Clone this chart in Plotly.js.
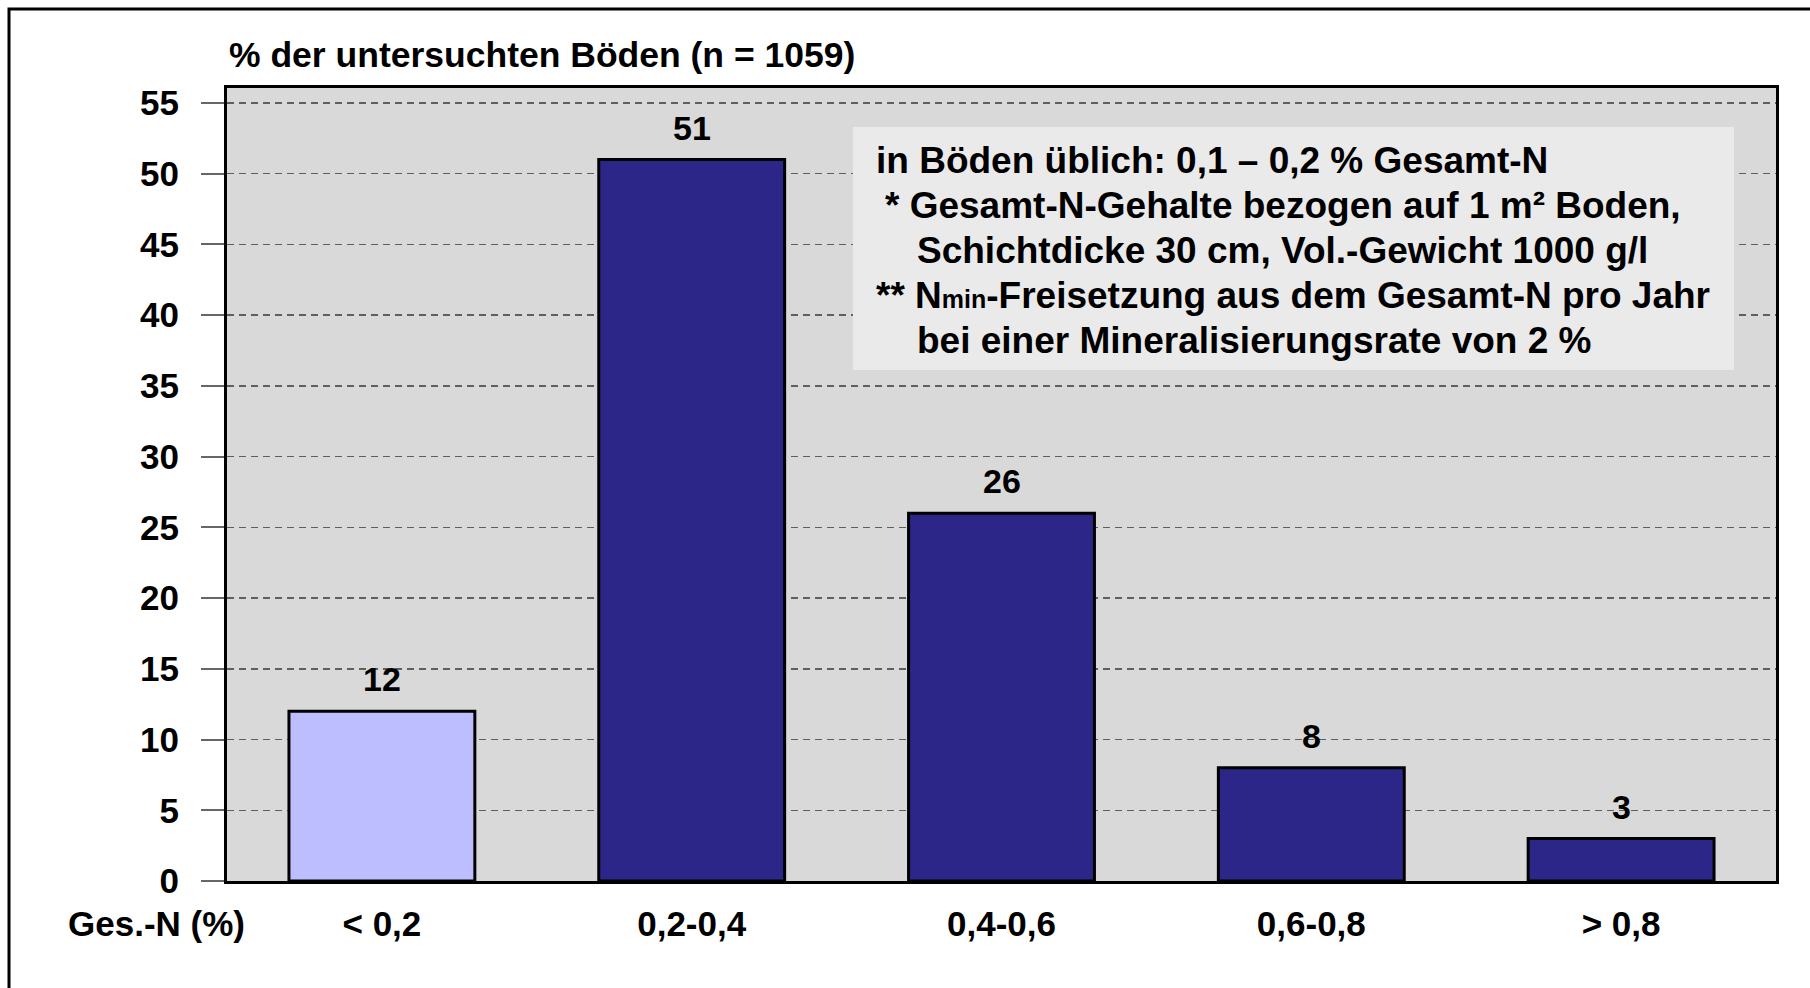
<!DOCTYPE html>
<html>
<head>
<meta charset="utf-8">
<script src="https://cdn.plot.ly/plotly-3.0.1.min.js"></script>
<style>
  html, body { margin: 0; padding: 0; background: #fff; }
  #graph { width: 1810px; height: 988px; }
</style>
</head>
<body>
<div id="graph"></div>
<script>
// Gesamt-N Klassen und Anteil der Böden (%)
var klassen = ['< 0,2', '0,2-0,4', '0,4-0,6', '0,6-0,8', '> 0,8'];
var anteile = [12, 51, 26, 8, 3];
var barFarben = ['#bdbeff', '#2d2689', '#2d2689', '#2d2689', '#2d2689'];

var yTicks = [0, 5, 10, 15, 20, 25, 30, 35, 40, 45, 50, 55];

var titelText = '% der untersuchten Böden (n = 1059)';
var xAchsenText = 'Ges.-N (%)';
var hinweisZeilen = [
  'in Böden üblich: 0,1 – 0,2 % Gesamt-N',
  '* Gesamt-N-Gehalte bezogen auf 1 m² Boden,',
  'Schichtdicke 30 cm, Vol.-Gewicht 1000 g/l',
  '** N<span style="font-size:25px">min</span>-Freisetzung aus dem Gesamt-N pro Jahr',
  'bei einer Mineralisierungsrate von 2 %'
];

var FONT = 'Liberation Sans, Arial, sans-serif';

// Plotbereich in Pixeln
var L = 227, R = 1776, T = 88, B = 881;
function px(x) { return (x - L) / (R - L); }
function py(y) { return (B - y) / (B - T); }

var trace1 = {
  x: klassen,
  y: anteile,
  type: 'bar',
  width: 0.6,
  marker: {
    color: barFarben,
    line: { color: '#000', width: 3 }
  },
  hoverinfo: 'skip'
};

var annotations = [];

// Werte ueber den Balken
for (var i = 0; i < klassen.length; i++) {
  annotations.push({
    x: klassen[i],
    y: anteile[i],
    xref: 'x', yref: 'y',
    text: String(anteile[i]),
    showarrow: false,
    yanchor: 'middle',
    yshift: 32,
    font: { family: FONT, size: 34, color: '#000', weight: 'bold' }
  });
}

// Hinweis-Kasten
var zeilenX = [874, 883, 915, 874, 915];
var zeilenY = [160, 205, 250, 295, 340];
for (var j = 0; j < hinweisZeilen.length; j++) {
  annotations.push({
    x: px(zeilenX[j]),
    y: py(zeilenY[j]),
    xref: 'paper', yref: 'paper',
    xanchor: 'left', yanchor: 'middle',
    text: hinweisZeilen[j],
    showarrow: false,
    font: { family: FONT, size: 37, color: '#000', weight: 'bold' }
  });
}

annotations.push({
  x: px(156), y: py(923),
  xref: 'paper', yref: 'paper',
  xanchor: 'center', yanchor: 'middle',
  text: xAchsenText,
  showarrow: false,
  font: { family: FONT, size: 35, color: '#000', weight: 'bold' }
});

var layout = {
  width: 1810,
  height: 988,
  margin: { l: L, r: 1810 - R, t: T, b: 988 - B, pad: 0 },
  paper_bgcolor: '#ffffff',
  plot_bgcolor: '#d9d9d9',
  showlegend: false,
  bargap: 0.4,
  title: {
    text: titelText,
    xref: 'container', yref: 'container',
    x: 229 / 1810, xanchor: 'left',
    y: 1 - 55 / 988, yanchor: 'middle',
    font: { family: FONT, size: 35.5, color: '#000', weight: 'bold' }
  },
  xaxis: {
    type: 'category',
    range: [-0.5, 4.5],
    showgrid: false,
    zeroline: false,
    showline: true,
    linecolor: '#000',
    linewidth: 3,
    mirror: true,
    ticks: '',
    ticklabelstandoff: 10,
    tickfont: { family: FONT, size: 35, color: '#000', weight: 'bold' },
    fixedrange: true
  },
  yaxis: {
    range: [0, 56.06],
    tickvals: yTicks,
    ticktext: yTicks.map(String),
    showgrid: true,
    gridcolor: '#5f5f5f',
    gridwidth: 1.5,
    griddash: '7px,5px',
    zeroline: false,
    showline: true,
    linecolor: '#000',
    linewidth: 3,
    mirror: true,
    ticks: 'outside',
    ticklen: 23,
    tickwidth: 2,
    tickcolor: '#666',
    ticklabelstandoff: 15,
    tickfont: { family: FONT, size: 35, color: '#000', weight: 'bold' },
    fixedrange: true
  },
  shapes: [
    // Rahmen um die Grafik
    {
      type: 'rect', xref: 'paper', yref: 'paper',
      x0: px(9), x1: 1.2, y0: -0.3, y1: py(9),
      line: { color: '#000', width: 3 },
      fillcolor: 'rgba(0,0,0,0)'
    },
    // Hintergrund des Hinweises
    {
      type: 'rect', xref: 'paper', yref: 'paper',
      x0: px(853), x1: px(1734), y0: py(370), y1: py(127),
      line: { width: 0 },
      fillcolor: '#eaeaea',
      layer: 'above'
    }
  ],
  annotations: annotations
};

Plotly.newPlot('graph', [trace1], layout, { displayModeBar: false, staticPlot: true });
</script>
</body>
</html>
